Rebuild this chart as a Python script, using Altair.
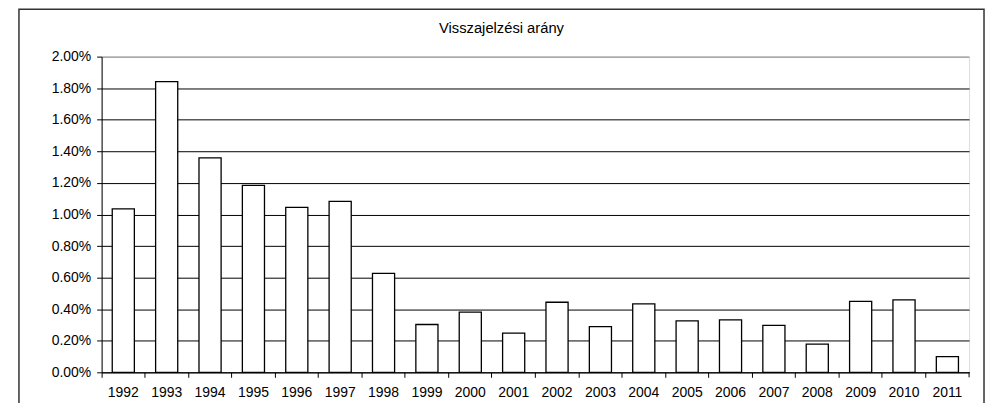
import altair as alt
import pandas as pd

years = [str(y) for y in range(1992, 2012)]
rates = [0.01035, 0.01842, 0.01358, 0.01184, 0.01045, 0.01083, 0.00627,
         0.00303, 0.00381, 0.00248, 0.00444, 0.00290, 0.00433, 0.00326,
         0.00332, 0.00297, 0.00179, 0.00450, 0.00459, 0.00099]
y_ticks = [i / 1000 for i in range(0, 21, 2)]
title_text = ["Visszajelzési arány"]

W, H = 871, 317
FONT = "Liberation Sans"

df = pd.DataFrame({"year": years, "rate": rates})
one = pd.DataFrame({"a": [0]})
tdf = pd.DataFrame({"t": title_text})

bars = alt.Chart(df).mark_bar(
    fill="white", stroke="black", strokeWidth=1.3, width=alt.RelativeBandSize(0.51)
).encode(
    x=alt.X("year:N", sort=years,
            scale=alt.Scale(paddingInner=0, paddingOuter=0),
            axis=alt.Axis(title=None, labelAngle=0, bandPosition=0,
                          tickSize=5, tickColor="black",
                          domainColor="black", labelPadding=8.5, labelFontSize=14,
                          labelFont=FONT, labelColor="black", grid=False)),
    y=alt.Y("rate:Q",
            scale=alt.Scale(domain=[0, 0.02], nice=False),
            axis=alt.Axis(title=None, format=".2%", values=y_ticks, tickSize=5,
                          tickColor="black", domainColor="black", labelPadding=6,
                          labelFontSize=14, labelFont=FONT, labelColor="black",
                          grid=True,
                          gridColor=alt.condition("datum.value >= 0.0199",
                                                  alt.value("#808080"),
                                                  alt.value("black")),
                          gridOpacity=1)),
)

end_tick = alt.Chart(one).mark_rule(color="black").encode(
    x=alt.value(W), y=alt.value(H), y2=alt.value(H + 5)
)

frame = alt.Chart(one).mark_rect(
    fill=None, stroke="#333333", strokeWidth=1.5, clip=False
).encode(
    x=alt.value(-83), x2=alt.value(886), y=alt.value(-47.5), y2=alt.value(H + 80)
)

title = alt.Chart(tdf).mark_text(
    font=FONT, fontSize=14.8, color="black", align="center", baseline="alphabetic"
).encode(
    text="t:N", x=alt.value(W / 2 - 34), y=alt.value(-23.3)
)

chart = alt.layer(bars, end_tick, frame, title).properties(
    width=W, height=H,
    autosize=alt.AutoSizeParams(type="none"),
    padding={"left": 94, "top": 48, "right": 18, "bottom": 30},
).configure_view(
    fill="#C0C0C0", stroke="#808080", strokeWidth=1
).configure(background="white")

chart.save("out.html", embed_options={"renderer": "svg", "actions": False})
